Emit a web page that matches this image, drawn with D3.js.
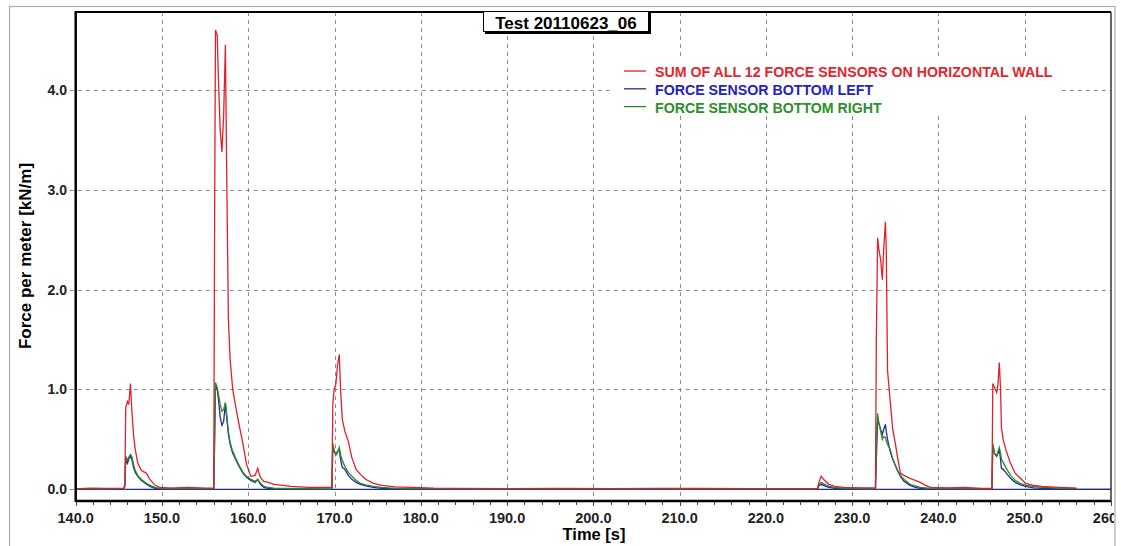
<!DOCTYPE html>
<html><head><meta charset="utf-8">
<script src="https://cdn.jsdelivr.net/npm/d3@7"></script>
<style>
body{margin:0;background:#fff}
svg{display:block}
text{font-family:Arial,"Liberation Sans",sans-serif}
</style>
</head><body>
<svg id="c" width="1121" height="546"></svg>
<script>
// ---------- DATA ----------
const timeSec = [140.0,141.0,142.0,143.5,145.0,145.6,145.7,145.8,146.0,146.15,146.35,146.5,146.7,146.9,147.2,147.6,148.2,148.6,149.2,149.8,151.0,153.0,155.0,
156.0,156.1,156.2,156.4,156.55,156.75,156.95,157.15,157.35,157.5,157.7,157.9,158.2,158.6,159.0,159.4,159.8,160.3,160.8,161.1,161.4,161.8,162.3,163.0,164.0,165.0,167.0,
169.7,169.8,169.95,170.15,170.35,170.55,170.7,170.9,171.2,171.6,172.0,172.5,173.0,173.6,174.5,175.5,177.0,179.0,181.5,184.0,190.0,196.0,202.0,207.0,212.0,218.0,224.0,
226.0,226.1,226.4,226.8,227.3,228.0,229.0,231.0,
232.7,232.8,232.95,233.1,233.3,233.5,233.65,233.85,233.95,234.1,234.4,234.7,235.0,235.3,235.6,236.0,236.7,237.3,237.9,238.5,239.1,241.0,243.0,245.0,
246.2,246.3,246.5,246.75,246.9,247.05,247.2,247.3,247.5,247.8,248.35,248.9,249.5,250.1,251.0,252.0,254.0,256.0,256.5,260.0];

const sumWall = [0.005,0.008,0.012,0.010,0.010,0.010,0.05,0.82,0.88,0.85,1.06,0.80,0.55,0.40,0.26,0.19,0.16,0.10,0.04,0.02,0.012,0.02,0.012,
0.015,2.65,4.60,4.55,4.10,3.60,3.38,3.75,4.45,3.20,1.70,1.30,1.00,0.80,0.62,0.45,0.25,0.13,0.14,0.21,0.12,0.08,0.07,0.05,0.04,0.03,0.02,
0.02,0.85,1.00,1.05,1.25,1.35,1.00,0.70,0.58,0.48,0.32,0.20,0.15,0.10,0.06,0.04,0.025,0.02,0.012,0.010,0.006,0.008,0.006,0.010,0.008,0.006,0.006,
0.006,0.06,0.13,0.09,0.05,0.03,0.02,0.015,
0.015,1.50,2.52,2.40,2.30,2.10,2.40,2.68,2.40,1.19,0.89,0.60,0.46,0.30,0.16,0.14,0.11,0.09,0.07,0.04,0.02,0.015,0.018,0.008,
0.008,1.06,1.02,0.97,1.05,1.27,1.00,0.62,0.50,0.40,0.26,0.16,0.11,0.06,0.04,0.03,0.02,0.012,null,null];

const bottomLeft = [0,0,0,0,0,0,0.06,0.30,0.26,0.30,0.34,0.30,0.22,0.17,0.13,0.09,0.05,0.03,0.01,0.005,0,0,0,
0,0.45,1.05,1.00,0.90,0.72,0.64,0.68,0.86,0.72,0.55,0.45,0.36,0.29,0.22,0.16,0.12,0.09,0.07,0.10,0.05,0.02,0.01,0.005,0,0,0,
0,0.44,0.38,0.35,0.38,0.40,0.30,0.22,0.20,0.14,0.10,0.07,0.05,0.035,0.02,0.01,0.005,0,0,0,0,0,0,0,0,0,0,
0,0.03,0.05,0.035,0.02,0.01,0.005,0,
0,0.30,0.70,0.66,0.60,0.55,0.60,0.65,0.58,0.50,0.38,0.30,0.24,0.18,0.13,0.08,0.04,0.02,0.01,0.005,0,0,0,0,
0,0.44,0.36,0.33,0.36,0.40,0.30,0.21,0.20,0.17,0.11,0.07,0.045,0.03,0.015,0.01,0.005,0,0,0];

const bottomRight = [0.005,0.004,0.006,0.005,0.006,0.006,0.02,0.33,0.29,0.32,0.35,0.33,0.25,0.19,0.14,0.10,0.06,0.04,0.02,0.01,0.008,0.01,0.006,
0.006,0.60,1.07,1.02,0.95,0.85,0.78,0.80,0.87,0.75,0.58,0.47,0.38,0.30,0.23,0.17,0.13,0.10,0.08,0.10,0.06,0.03,0.02,0.012,0.010,0.008,0.006,
0.005,0.46,0.40,0.34,0.37,0.42,0.35,0.29,0.23,0.17,0.13,0.09,0.06,0.045,0.03,0.02,0.01,0.008,0.006,0.004,0.004,0.004,0.004,0.004,0.004,0.004,0.004,
0.004,0.04,0.07,0.05,0.03,0.02,0.01,0.008,
0.006,0.50,0.76,0.66,0.58,0.50,0.53,0.52,0.48,0.45,0.40,0.31,0.24,0.18,0.14,0.10,0.05,0.035,0.02,0.015,0.01,0.008,0.006,0.004,
0.004,0.46,0.36,0.34,0.38,0.42,0.36,0.30,0.27,0.22,0.14,0.09,0.06,0.04,0.03,0.02,0.012,0.008,null,null];

const zeroLineSpan = [145.7, 260.0];
const xTickValues = [140,150,160,170,180,190,200,210,220,230,240,250,260];
const yTickValues = [0,1,2,3,4];
const seriesNames = ["SUM OF ALL 12 FORCE SENSORS ON HORIZONTAL WALL","FORCE SENSOR BOTTOM LEFT","FORCE SENSOR BOTTOM RIGHT"];
const titleText = "Test 20110623_06";
const xTitle = "Time [s]";
const yTitle = "Force per meter [kN/m]";

// ---------- LAYOUT ----------
const W = 1121, H = 546;
const pl = 75.7, pr = 1111, pt = 12, pb = 501;
const cRed = "#e0202a", cBlue = "#1f2a96", cGreen = "#2a8a2a";
const lRed = "#e2262e", lBlue = "#2323b8", lGreen = "#2e8e2e";

const svg = d3.select("#c");
svg.append("rect").attr("width",W).attr("height",H).attr("fill","#fff");
svg.append("defs").append("clipPath").attr("id","outer").append("rect")
  .attr("x",10).attr("y",7).attr("width",1104).attr("height",545);
svg.select("defs").append("clipPath").attr("id","plot").append("rect")
  .attr("x",pl).attr("y",pt).attr("width",pr-pl).attr("height",pb-pt);

// outer frame
svg.append("rect").attr("x",9.5).attr("y",6.5).attr("width",1105.5).attr("height",560)
  .attr("fill","none").attr("stroke","#ababab").attr("stroke-width",1.2);

const g = svg.append("g").attr("clip-path","url(#outer)");

const x = d3.scaleLinear().domain([140,260]).range([pl,pr]);
const y = d3.scaleLinear().domain([-0.117,4.781]).range([pb,pt]);

// grid
g.append("g").selectAll("line").data(xTickValues.filter(d=>d>140 && d<260)).join("line")
  .attr("x1",d=>Math.round(x(d))+0.5).attr("x2",d=>Math.round(x(d))+0.5)
  .attr("y1",pt).attr("y2",pb)
  .attr("stroke","#8c8c8c").attr("stroke-width",1).attr("stroke-dasharray","4,4");
g.append("g").selectAll("line").data(yTickValues.filter(d=>d>0)).join("line")
  .attr("x1",pl-6).attr("x2",pr)
  .attr("y1",d=>Math.round(y(d))+0.5).attr("y2",d=>Math.round(y(d))+0.5)
  .attr("stroke","#8c8c8c").attr("stroke-width",1).attr("stroke-dasharray","4,4");
g.append("line").attr("x1",pl-6).attr("x2",pl).attr("y1",Math.round(y(0))+0.5).attr("y2",Math.round(y(0))+0.5)
  .attr("stroke","#8c8c8c").attr("stroke-dasharray","4,4");

// x axis ticks (minor every 2 s)
const minor = d3.range(140,260.1,2);
g.append("g").selectAll("line").data(minor).join("line")
  .attr("x1",d=>Math.round(x(d))+0.5).attr("x2",d=>Math.round(x(d))+0.5)
  .attr("y1",pb).attr("y2",d=>d%10===0?pb+5:pb+4)
  .attr("stroke","#444").attr("stroke-width",1);

// legend background (hides grid under legend)
g.append("rect").attr("x",612).attr("y",60).attr("width",450).attr("height",56).attr("fill","#fff");

// data
const plot = g.append("g").attr("clip-path","url(#plot)");
const line = d3.line().defined(d=>d[1]!==null).x(d=>x(d[0])).y(d=>y(d[1]));
plot.append("path").datum(zeroLineSpan.map(t=>[t,0]))
  .attr("d",line).attr("fill","none").attr("stroke",cBlue).attr("stroke-width",1.2);
const mk = arr => timeSec.map((t,i)=>[t,arr[i]]);
plot.append("path").datum(mk(bottomLeft)).attr("d",line).attr("fill","none").attr("stroke",cBlue).attr("stroke-width",1.3);
plot.append("path").datum(mk(bottomRight)).attr("d",line).attr("fill","none").attr("stroke",cGreen).attr("stroke-width",1.3);
plot.append("path").datum(mk(sumWall)).attr("d",line).attr("fill","none").attr("stroke",cRed).attr("stroke-width",1.3);

// plot frame
g.append("line").attr("x1",pl).attr("x2",pr).attr("y1",pt).attr("y2",pt).attr("stroke","#000").attr("stroke-width",2);
g.append("line").attr("x1",pl).attr("x2",pr).attr("y1",pb).attr("y2",pb).attr("stroke","#000").attr("stroke-width",2.5);
g.append("line").attr("x1",pl).attr("x2",pl).attr("y1",pt-1).attr("y2",pb+1).attr("stroke","#000").attr("stroke-width",2.5);
g.append("line").attr("x1",pr).attr("x2",pr).attr("y1",pt).attr("y2",pb).attr("stroke","#333").attr("stroke-width",1.5);

// tick labels
g.append("g").selectAll("text").data(xTickValues).join("text")
  .attr("x",d=>x(d)).attr("y",523).attr("text-anchor","middle")
  .attr("font-size",14.5).attr("font-weight","bold").attr("fill","#222")
  .text(d=>d3.format(".1f")(d));
g.append("g").selectAll("text").data(yTickValues).join("text")
  .attr("x",67).attr("y",d=>y(d)+5).attr("text-anchor","end")
  .attr("font-size",14).attr("font-weight","bold").attr("fill","#222")
  .text(d=>d3.format(".1f")(d));

// axis titles
g.append("text").attr("x",594).attr("y",540).attr("text-anchor","middle")
  .attr("font-size",16.5).attr("font-weight","bold").attr("fill","#000").text(xTitle);
g.append("text").attr("transform","translate(31,256) rotate(-90)").attr("text-anchor","middle")
  .attr("font-size",17).attr("font-weight","bold").attr("fill","#000").text(yTitle);

// title box
const tb = g.append("g");
tb.append("rect").attr("x",485).attr("y",13).attr("width",166).attr("height",21).attr("fill","#000");
tb.append("rect").attr("x",483.5).attr("y",11.5).attr("width",165).attr("height",20).attr("fill","#fff").attr("stroke","#000");
tb.append("text").attr("x",566).attr("y",28.5).attr("text-anchor","middle")
  .attr("font-size",17).attr("font-weight","bold").attr("fill","#000").text(titleText);

// legend
const lg = g.append("g");
const lineCols = [cRed,cBlue,cGreen], txtCols = [lRed,lBlue,lGreen];
seriesNames.forEach((n,i)=>{
  const yy = 71 + i*17.8;
  lg.append("line").attr("x1",624).attr("x2",646).attr("y1",yy).attr("y2",yy).attr("stroke",lineCols[i]).attr("stroke-width",1.3);
  lg.append("text").attr("x",655).attr("y",yy+6).attr("font-size",14.2).attr("font-weight","bold")
    .attr("fill",txtCols[i]).text(n);
});
</script>
</body></html>
